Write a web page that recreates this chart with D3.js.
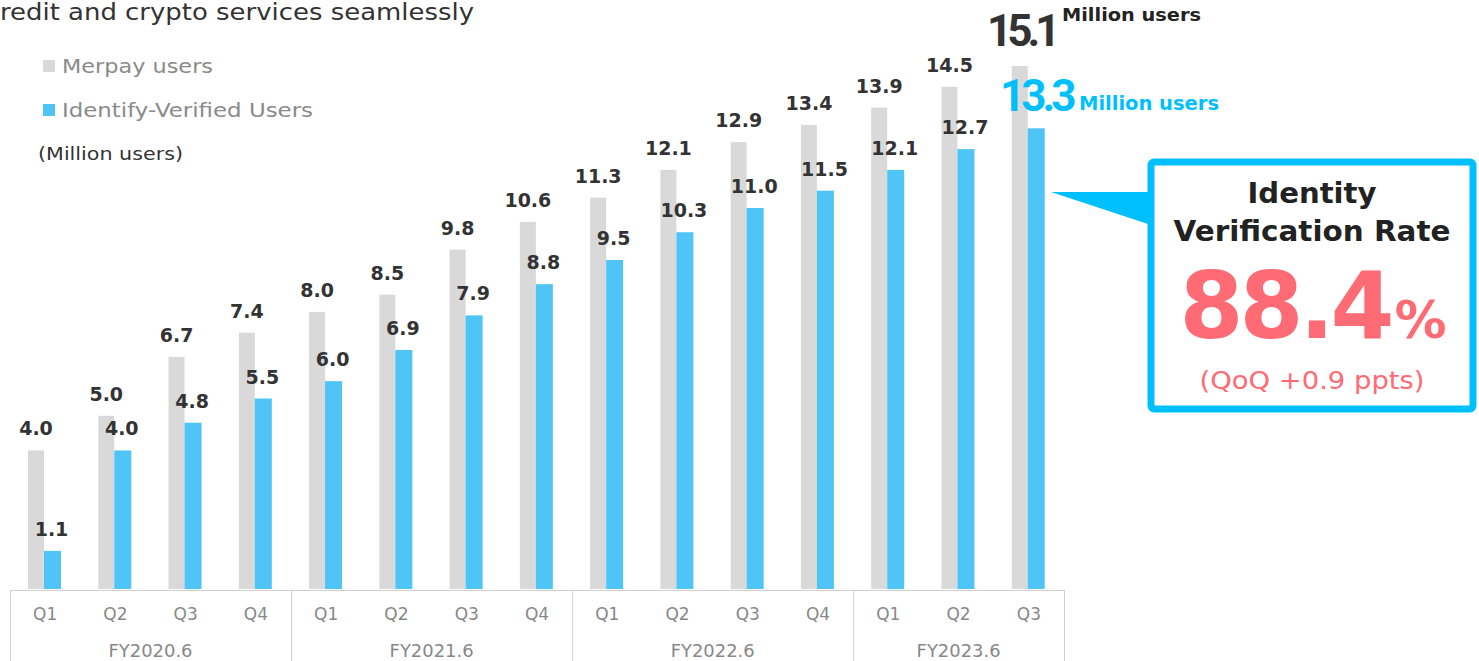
<!DOCTYPE html>
<html>
<head>
<meta charset="utf-8">
<script src="https://cdn.jsdelivr.net/npm/d3@7"></script>
<style>
  html, body { margin: 0; padding: 0; background: #fff; }
  svg { display: block; font-family: "DejaVu Sans", "Open Sans", sans-serif; }
</style>
</head>
<body>
<svg id="chart" width="1479" height="661"></svg>
<script>
// Quarterly user counts (million users)
const quarters = ["Q1","Q2","Q3","Q4","Q1","Q2","Q3","Q4","Q1","Q2","Q3","Q4","Q1","Q2","Q3"];
const fiscalYears = ["FY2020.6","FY2021.6","FY2022.6","FY2023.6"];
const fyQuarterCounts = [4, 4, 4, 3];
const merpayUsers = [4.0,5.0,6.7,7.4,8.0,8.5,9.8,10.6,11.3,12.1,12.9,13.4,13.9,14.5,15.1];
const verifiedUsers = [1.1,4.0,4.8,5.5,6.0,6.9,7.9,8.8,9.5,10.3,11.0,11.5,12.1,12.7,13.3];
const verificationRate = "88.4";
const rateChange = "(QoQ +0.9 ppts)";

const GREY = "#d9d9d9", BLUE = "#4fc4f7", CYAN = "#00bfff", PINK = "#ff6b74", DARK = "#333333";

const svg = d3.select("#chart");
const idx = d3.range(merpayUsers.length);

const x = d3.scaleBand().domain(idx).range([10, 1064]).padding(0);
const y = d3.scaleLinear().domain([0, 15.1]).range([589, 66]);

// Bars
const greyW = 16, blueW = 17, barOffset = 18;
svg.append("g").selectAll("rect").data(idx).join("rect")
  .attr("x", i => x(i) + barOffset)
  .attr("width", greyW)
  .attr("y", i => y(merpayUsers[i]))
  .attr("height", i => y(0) - y(merpayUsers[i]))
  .attr("fill", GREY);
svg.append("g").selectAll("rect").data(idx).join("rect")
  .attr("x", i => x(i) + barOffset + greyW)
  .attr("width", blueW)
  .attr("y", i => y(verifiedUsers[i]))
  .attr("height", i => y(0) - y(verifiedUsers[i]))
  .attr("fill", BLUE);

// Value labels (last quarter is highlighted separately)
const last = idx.length - 1;
svg.append("g").selectAll("text").data(idx.slice(0, last)).join("text")
  .attr("x", i => x(i) + barOffset + greyW / 2)
  .attr("y", i => y(merpayUsers[i]) - 15)
  .attr("text-anchor", "middle")
  .attr("font-size", 19).attr("font-weight", "bold").attr("fill", DARK)
  .text(i => merpayUsers[i].toFixed(1));
svg.append("g").selectAll("text").data(idx.slice(0, last)).join("text")
  .attr("x", i => x(i) + barOffset + greyW + blueW / 2 - 1)
  .attr("y", i => y(verifiedUsers[i]) - 15)
  .attr("text-anchor", "middle")
  .attr("font-size", 19).attr("font-weight", "bold").attr("fill", DARK)
  .text(i => verifiedUsers[i].toFixed(1));

// Highlighted latest values
svg.append("text").attr("x", 987).attr("y", 46)
  .attr("font-family", "Roboto, sans-serif")
  .attr("font-size", 44).attr("font-weight", "bold").attr("letter-spacing", -5)
  .attr("fill", DARK).text(merpayUsers[last].toFixed(1));
svg.append("text").attr("x", 1062).attr("y", 21)
  .attr("font-size", 18).attr("font-weight", "bold").attr("fill", "#222")
  .attr("textLength", 139).attr("lengthAdjust", "spacingAndGlyphs").text("Million users");
svg.append("text").attr("x", 1000).attr("y", 111)
  .attr("font-family", "Roboto, sans-serif")
  .attr("font-size", 44).attr("font-weight", "bold").attr("letter-spacing", -4)
  .attr("fill", CYAN).text(verifiedUsers[last].toFixed(1));
svg.append("text").attr("x", 1079).attr("y", 110)
  .attr("font-size", 19).attr("font-weight", "bold").attr("fill", CYAN)
  .attr("textLength", 140).attr("lengthAdjust", "spacingAndGlyphs").text("Million users");

// Category axis: quarter row and fiscal-year row inside a light frame
const axisG = svg.append("g");
const lineColor = "#d0d0d0";
axisG.append("line").attr("x1", x.range()[0]).attr("x2", x.range()[1])
  .attr("y1", 590.5).attr("y2", 590.5).attr("stroke", lineColor);
let cum = 0;
const bounds = [0];
fyQuarterCounts.forEach(c => { cum += c; bounds.push(cum); });
bounds.forEach(b => {
  const bx = b < idx.length ? x(b) : x.range()[1];
  axisG.append("line").attr("x1", bx + 0.5).attr("x2", bx + 0.5)
    .attr("y1", 590).attr("y2", 661).attr("stroke", lineColor);
});
axisG.selectAll("text.q").data(idx).join("text").attr("class", "q")
  .attr("x", i => x(i) + x.bandwidth() / 2)
  .attr("y", 620)
  .attr("text-anchor", "middle").attr("font-size", 17).attr("fill", "#888")
  .text(i => quarters[i]);
axisG.selectAll("text.fy").data(fiscalYears).join("text").attr("class", "fy")
  .attr("x", (d, k) => {
    const a = x(bounds[k]);
    const b = bounds[k + 1] < idx.length ? x(bounds[k + 1]) : x.range()[1];
    return (a + b) / 2;
  })
  .attr("y", 657)
  .attr("text-anchor", "middle").attr("font-size", 17).attr("fill", "#888")
  .attr("textLength", 84).attr("lengthAdjust", "spacingAndGlyphs")
  .text(d => d);

// Heading fragment and legend
svg.append("text").attr("x", 0).attr("y", 20)
  .attr("font-size", 23).attr("fill", DARK)
  .attr("textLength", 474).attr("lengthAdjust", "spacingAndGlyphs")
  .text("redit and crypto services seamlessly");
const legend = [
  {label: "Merpay users", color: GREY, y: 60, len: 151},
  {label: "Identify-Verified Users", color: BLUE, y: 104, len: 251}
];
legend.forEach(l => {
  svg.append("rect").attr("x", 43).attr("y", l.y).attr("width", 12).attr("height", 12).attr("fill", l.color);
  svg.append("text").attr("x", 62).attr("y", l.y + 13).attr("font-size", 20).attr("fill", "#8a8a8a")
    .attr("textLength", l.len).attr("lengthAdjust", "spacingAndGlyphs").text(l.label);
});
svg.append("text").attr("x", 38).attr("y", 160).attr("font-size", 18).attr("fill", DARK)
  .attr("textLength", 145).attr("lengthAdjust", "spacingAndGlyphs").text("(Million users)");

// Callout box with pointer toward the latest bar
const box = {x: 1151, y: 162, w: 322, h: 247};
svg.append("path")
  .attr("d", `M1051,192 L${box.x},192 L${box.x},225 Z`)
  .attr("fill", CYAN);
svg.append("rect").attr("x", box.x).attr("y", box.y).attr("width", box.w).attr("height", box.h)
  .attr("rx", 3).attr("fill", "#fff").attr("stroke", CYAN).attr("stroke-width", 7);
const cx = box.x + box.w / 2;
svg.append("text").attr("x", cx).attr("y", 203).attr("text-anchor", "middle")
  .attr("font-size", 28).attr("font-weight", "bold").attr("fill", "#222")
  .attr("textLength", 129).attr("lengthAdjust", "spacingAndGlyphs").text("Identity");
svg.append("text").attr("x", cx).attr("y", 241).attr("text-anchor", "middle")
  .attr("font-size", 28).attr("font-weight", "bold").attr("fill", "#222")
  .attr("textLength", 277).attr("lengthAdjust", "spacingAndGlyphs").text("Verification Rate");
const rate = svg.append("text").attr("x", cx + 1).attr("y", 338).attr("text-anchor", "middle")
  .attr("fill", PINK).attr("font-weight", "bold");
rate.append("tspan").attr("font-size", 92).attr("letter-spacing", -4).text(verificationRate);
rate.append("tspan").attr("font-size", 52).attr("dx", 4).text("%");
svg.append("text").attr("x", cx).attr("y", 389).attr("text-anchor", "middle")
  .attr("font-size", 25).attr("fill", PINK)
  .attr("textLength", 225).attr("lengthAdjust", "spacingAndGlyphs").text(rateChange);
</script>
</body>
</html>
